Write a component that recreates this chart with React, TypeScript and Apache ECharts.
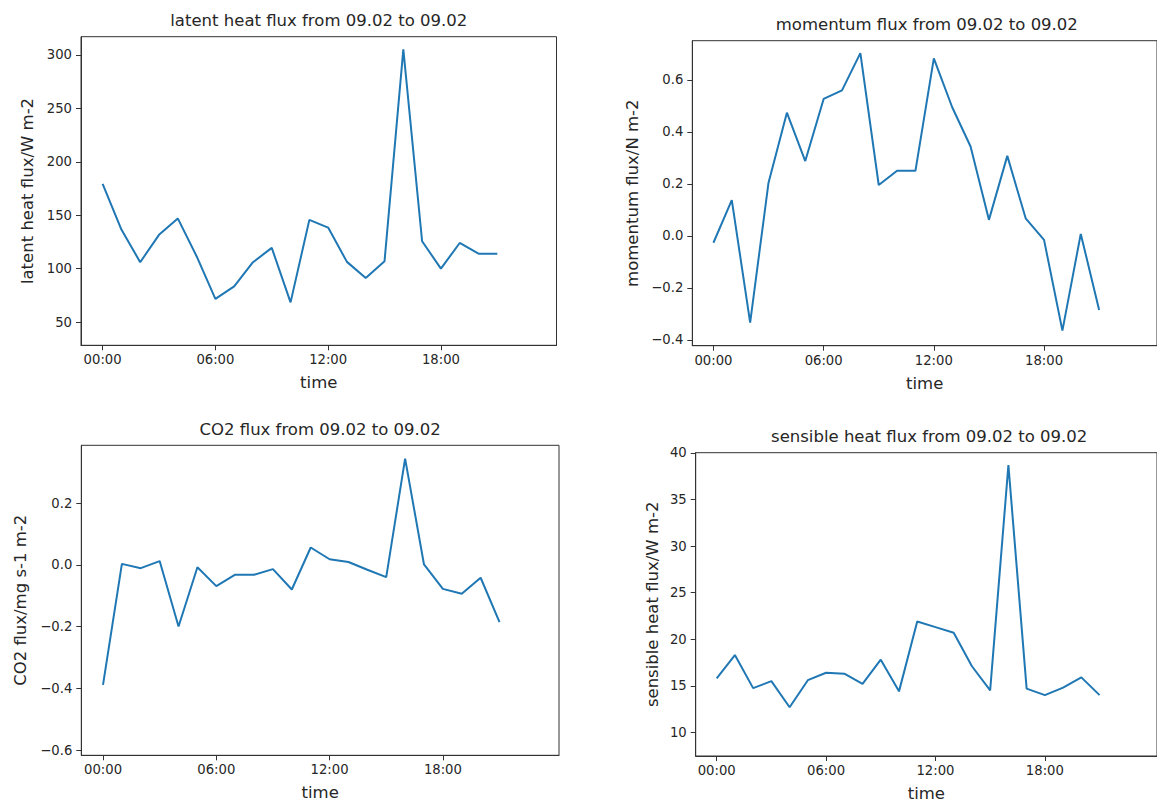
import { useEffect, useRef } from "react";
import * as echarts from "echarts";

// Hour of day for each hourly averaged sample
const hours = [0, 1, 2, 3, 4, 5, 6, 7, 8, 9, 10, 11, 12, 13, 14, 15, 16, 17, 18, 19, 20, 21];
const hourTicks = [0, 6, 12, 18];
const hourTickLabels = ["00:00", "06:00", "12:00", "18:00"];

// latent heat flux, W m-2
const latentHeat = [179.4, 136.6, 106, 131.6, 147, 111.6, 71.6, 83.4, 106, 119.4, 68.4, 145.6, 138.4, 106.3, 91.3, 106.9, 305.3, 125.6, 100, 124, 114, 114];
// momentum flux, N m-2
const momentum = [-0.026, 0.138, -0.333, 0.205, 0.474, 0.288, 0.527, 0.56, 0.703, 0.196, 0.251, 0.251, 0.683, 0.495, 0.344, 0.062, 0.308, 0.068, -0.015, -0.364, 0.008, -0.285];
// CO2 flux, mg s-1 m-2
const co2 = [-0.389, 0.003, -0.011, 0.012, -0.2, -0.008, -0.069, -0.032, -0.032, -0.014, -0.08, 0.056, 0.018, 0.009, -0.016, -0.04, 0.344, 0.001, -0.078, -0.094, -0.042, -0.186];
// sensible heat flux, W m-2
const sensible = [15.8, 18.3, 14.75, 15.5, 12.7, 15.6, 16.4, 16.3, 15.2, 17.8, 14.4, 21.9, 21.3, 20.7, 17.1, 14.5, 38.7, 14.7, 14.0, 14.8, 15.9, 14.0];

const latentTicks = [50, 100, 150, 200, 250, 300];
const momentumTicks = [-0.4, -0.2, 0, 0.2, 0.4, 0.6];
const co2Ticks = [-0.6, -0.4, -0.2, 0, 0.2];
const sensibleTicks = [10, 15, 20, 25, 30, 35, 40];

const FONT = '"DejaVu Sans", sans-serif';
const TEXT = "#262626";
const SPINE = "#333333";
const LINE = "#1f77b4";
const TICK_SIZE = 13.2;
const LABEL_SIZE = 16.5;

const intLabel = (v: number) => String(Math.round(v));
const decLabel = (v: number) => v.toFixed(1).replace("-", "\u2212").replace("\u22120.0", "0.0");

type Panel = {
  title: string;
  yName: string;
  values: number[];
  yMin: number;
  yMax: number;
  yTicks: number[];
  fmt: (v: number) => string;
  box: { left: number; top: number; width: number; height: number };
  titleY: number;
  yNameGap: number;
};

const panels: Panel[] = [
  {
    title: "latent heat flux from 09.02 to 09.02",
    yName: "latent heat flux/W m-2",
    values: latentHeat,
    yMin: 28.2,
    yMax: 317.1,
    yTicks: latentTicks,
    fmt: intLabel,
    box: { left: 81, top: 36.7, width: 475.5, height: 308.6 },
    titleY: 20,
    yNameGap: 45,
  },
  {
    title: "momentum flux from 09.02 to 09.02",
    yName: "momentum flux/N m-2",
    values: momentum,
    yMin: -0.422,
    yMax: 0.751,
    yTicks: momentumTicks,
    fmt: decLabel,
    box: { left: 692.3, top: 40.7, width: 469, height: 305 },
    titleY: 24,
    yNameGap: 51,
  },
  {
    title: "CO2 flux from 09.02 to 09.02",
    yName: "CO2 flux/mg s-1 m-2",
    values: co2,
    yMin: -0.617,
    yMax: 0.387,
    yTicks: co2Ticks,
    fmt: decLabel,
    box: { left: 81.3, top: 445.3, width: 477.7, height: 310 },
    titleY: 429.5,
    yNameGap: 52,
  },
  {
    title: "sensible heat flux from 09.02 to 09.02",
    yName: "sensible heat flux/W m-2",
    values: sensible,
    yMin: 7.46,
    yMax: 40.03,
    yTicks: sensibleTicks,
    fmt: intLabel,
    box: { left: 695.7, top: 452.7, width: 467, height: 304 },
    titleY: 436.5,
    yNameGap: 35,
  },
];

function buildOption() {
  const grid = panels.map((p) => ({
    left: p.box.left,
    top: p.box.top,
    width: p.box.width,
    height: p.box.height,
    show: true,
    borderColor: SPINE,
    borderWidth: 1,
    backgroundColor: "transparent",
    containLabel: false,
  }));

  const xAxis = panels.map((p, i) => ({
    type: "value",
    gridIndex: i,
    min: -1.15,
    max: 24.15,
    name: "time",
    nameLocation: "middle",
    nameGap: 29,
    nameTextStyle: { fontFamily: FONT, fontSize: LABEL_SIZE, color: TEXT },
    axisLine: { show: true, onZero: false, lineStyle: { color: SPINE, width: 1 } },
    axisTick: { show: true, inside: false, length: 5, customValues: hourTicks, lineStyle: { color: SPINE, width: 1 } },
    axisLabel: {
      customValues: hourTicks,
      formatter: (v: number) => hourTickLabels[hourTicks.indexOf(v)] ?? "",
      margin: 8,
      fontFamily: FONT,
      fontSize: TICK_SIZE,
      color: TEXT,
    },
    splitLine: { show: false },
  }));

  const yAxis = panels.map((p, i) => ({
    type: "value",
    gridIndex: i,
    min: p.yMin,
    max: p.yMax,
    name: p.yName,
    nameLocation: "middle",
    nameGap: p.yNameGap,
    nameTextStyle: { fontFamily: FONT, fontSize: LABEL_SIZE, color: TEXT },
    axisLine: { show: true, onZero: false, lineStyle: { color: SPINE, width: 1 } },
    axisTick: { show: true, inside: false, length: 5, customValues: p.yTicks, lineStyle: { color: SPINE, width: 1 } },
    axisLabel: {
      customValues: p.yTicks,
      formatter: (v: number) => p.fmt(v),
      margin: 9,
      fontFamily: FONT,
      fontSize: TICK_SIZE,
      color: TEXT,
    },
    splitLine: { show: false },
  }));

  const series = panels.map((p, i) => ({
    type: "line",
    xAxisIndex: i,
    yAxisIndex: i,
    data: hours.map((h, k) => [h, p.values[k]]),
    symbol: "none",
    showSymbol: false,
    lineStyle: { color: LINE, width: 2 },
    clip: true,
  }));

  const graphic = panels.map((p) => ({
    type: "text",
    x: p.box.left + p.box.width / 2,
    y: p.titleY,
    style: {
      text: p.title,
      fill: TEXT,
      font: `${LABEL_SIZE}px ${FONT}`,
      align: "center",
      verticalAlign: "middle",
      textAlign: "center",
      textVerticalAlign: "middle",
    },
  }));

  return {
    animation: false,
    backgroundColor: "#ffffff",
    textStyle: { fontFamily: FONT },
    grid,
    xAxis,
    yAxis,
    series,
    graphic,
  };
}

export default function App() {
  const ref = useRef<HTMLDivElement>(null);

  useEffect(() => {
    if (!ref.current) return;
    const chart = echarts.init(ref.current, undefined, { renderer: "svg" });
    chart.setOption(buildOption() as any);
    return () => chart.dispose();
  }, []);

  return (
    <div
      ref={ref}
      style={{ position: "absolute", left: 0, top: 0, width: 1157, height: 803, background: "#fff" }}
    />
  );
}
